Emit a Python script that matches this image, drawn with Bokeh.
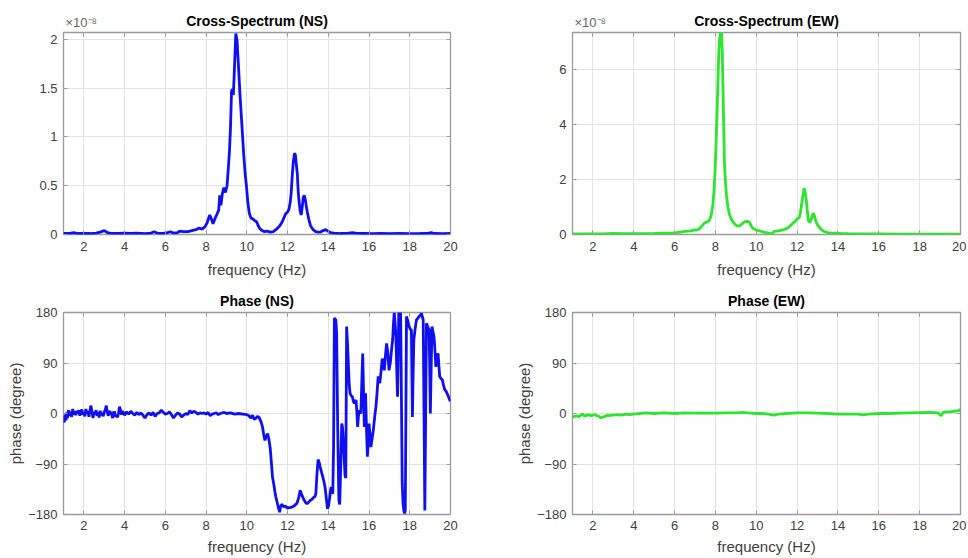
from bokeh.plotting import figure
from bokeh.models import (Range1d, FixedTicker, LinearAxis, Label, NumeralTickFormatter,
                          CustomLabelingPolicy)
from bokeh.layouts import column, row
from bokeh.embed import file_html
from bokeh.resources import INLINE

# ---------------- data ----------------
x_ticks = [2, 4, 6, 8, 10, 12, 14, 16, 18, 20]
spec_ns_ticks = [0, 0.5, 1, 1.5, 2]
spec_ew_ticks = [0, 2, 4, 6]
phase_ticks = [-180, -90, 0, 90, 180]

# Cross-spectrum NS (values in units of 1e-8)
ns_freq = [1.0, 1.3, 1.5, 1.7, 2.0, 2.3, 2.6, 2.8, 3.0, 3.15, 3.4, 3.7, 4.0, 4.3, 4.6, 5.0, 5.3, 5.45,
           5.6, 5.9, 6.1, 6.25, 6.4, 6.6, 6.7, 6.9, 7.1, 7.3, 7.5, 7.65, 7.8, 7.95, 8.05, 8.18, 8.26,
           8.34, 8.45, 8.54, 8.62, 8.67, 8.73, 8.8, 8.87, 8.95, 9.03, 9.1, 9.15, 9.2, 9.25, 9.3, 9.34,
           9.39, 9.46, 9.52, 9.6, 9.66, 9.72, 9.8, 9.85, 9.92, 9.98, 10.05, 10.12, 10.2, 10.3, 10.4,
           10.48, 10.56, 10.64, 10.75, 10.84, 11.0, 11.16, 11.3, 11.49, 11.62, 11.74, 11.82, 11.9,
           12.0, 12.07, 12.13, 12.18, 12.23, 12.28, 12.34, 12.38, 12.43, 12.48, 12.52, 12.57, 12.62,
           12.67, 12.72, 12.77, 12.82, 12.87, 12.92, 12.97, 13.05, 13.13, 13.25, 13.38, 13.5, 13.62,
           13.75, 13.87, 13.98, 14.1, 14.3, 14.6, 14.9, 15.2, 15.4, 15.8, 16.2, 16.6, 17.0, 17.5,
           18.0, 18.5, 18.9, 19.05, 19.2, 19.6, 20.0]
ns_spec = [0.01, 0.012, 0.018, 0.01, 0.012, 0.01, 0.015, 0.025, 0.04, 0.02, 0.01, 0.012, 0.015, 0.012,
           0.015, 0.01, 0.015, 0.028, 0.015, 0.012, 0.02, 0.028, 0.015, 0.02, 0.035, 0.03, 0.03, 0.04,
           0.05, 0.065, 0.055, 0.08, 0.12, 0.2, 0.16, 0.11, 0.17, 0.21, 0.25, 0.40, 0.30, 0.42, 0.48,
           0.43, 0.50, 0.70, 0.86, 1.1, 1.47, 1.49, 1.43, 1.69, 2.06, 1.99, 1.69, 1.45, 1.25, 0.98, 0.81,
           0.62, 0.50, 0.33, 0.22, 0.17, 0.16, 0.14, 0.13, 0.09, 0.06, 0.04, 0.03, 0.035, 0.025, 0.03,
           0.06, 0.09, 0.13, 0.17, 0.21, 0.23, 0.26, 0.33, 0.43, 0.6, 0.74, 0.83, 0.82, 0.72, 0.62,
           0.45, 0.33, 0.24, 0.20, 0.28, 0.38, 0.40, 0.36, 0.29, 0.23, 0.15, 0.09, 0.05, 0.03, 0.025,
           0.025, 0.04, 0.05, 0.035, 0.02, 0.015, 0.01, 0.012, 0.018, 0.012, 0.01, 0.008, 0.01, 0.008,
           0.01, 0.008, 0.01, 0.012, 0.02, 0.01, 0.008, 0.01]

# Cross-spectrum EW (values in units of 1e-8)
ew_freq = [1.0, 1.5, 2.0, 2.5, 3.0, 3.5, 4.0, 4.5, 5.0, 5.5, 6.0, 6.3, 6.5, 6.8, 6.98, 7.1, 7.2, 7.3,
           7.38, 7.46, 7.54, 7.62, 7.7, 7.79, 7.87, 7.93, 7.98, 8.03, 8.08, 8.12, 8.16, 8.2, 8.26, 8.3,
           8.34, 8.39, 8.44, 8.49, 8.54, 8.6, 8.68, 8.76, 8.85, 8.95, 9.09, 9.17, 9.25, 9.35, 9.45,
           9.55, 9.66, 9.74, 9.82, 9.95, 10.07, 10.2, 10.4, 10.55, 10.72, 10.8, 10.88, 11.0, 11.2,
           11.35, 11.53, 11.65, 11.77, 11.85, 11.93, 12.02, 12.1, 12.16, 12.21, 12.28, 12.34, 12.39,
           12.44, 12.5, 12.55, 12.62, 12.67, 12.74, 12.8, 12.87, 12.93, 13.0, 13.07, 13.2, 13.32, 13.5,
           13.64, 13.9, 14.13, 14.5, 15.0, 15.5, 16.0, 17.0, 18.0, 19.0, 20.0]
ew_spec = [0.02, 0.02, 0.025, 0.025, 0.04, 0.03, 0.03, 0.035, 0.04, 0.05, 0.06, 0.09, 0.11, 0.13, 0.17,
           0.16, 0.2, 0.28, 0.35, 0.42, 0.45, 0.47, 0.5, 0.7, 1.05, 1.6, 2.27, 3.3, 4.45, 5.5, 6.5, 7.1,
           7.4, 7.4, 6.5, 4.5, 2.63, 1.9, 1.42, 1.05, 0.75, 0.58, 0.47, 0.38, 0.30, 0.32, 0.35, 0.42,
           0.47, 0.48, 0.45, 0.33, 0.23, 0.18, 0.15, 0.12, 0.08, 0.06, 0.02, 0.06, 0.11, 0.12, 0.15,
           0.18, 0.23, 0.3, 0.39, 0.45, 0.5, 0.58, 0.6, 0.8, 1.05, 1.4, 1.68, 1.55, 1.3, 0.85, 0.5,
           0.45, 0.5, 0.68, 0.78, 0.62, 0.45, 0.35, 0.27, 0.17, 0.11, 0.07, 0.06, 0.05, 0.04, 0.03,
           0.025, 0.02, 0.02, 0.015, 0.015, 0.015, 0.015]

# Phase NS (degrees)
nsp_freq = [1.0, 1.04, 1.08, 1.12, 1.16, 1.2, 1.25, 1.3, 1.35, 1.4, 1.45, 1.5, 1.55, 1.6, 1.65, 1.7,
            1.75, 1.8, 1.85, 1.9, 1.95, 2.0, 2.05, 2.1, 2.15, 2.2, 2.25, 2.3, 2.35, 2.4, 2.45, 2.5,
            2.55, 2.6, 2.65, 2.7, 2.75, 2.8, 2.85, 2.9, 2.95, 3.0, 3.05, 3.1, 3.15, 3.2, 3.25, 3.3,
            3.35, 3.4, 3.45, 3.5, 3.55, 3.6, 3.65, 3.7, 3.75, 3.8, 3.85, 3.9, 3.95, 4.0, 4.1, 4.2,
            4.3, 4.4, 4.5, 4.6, 4.7, 4.8, 4.9, 5.0, 5.1, 5.2, 5.3, 5.4, 5.5, 5.6, 5.7, 5.8, 5.9, 6.0,
            6.1, 6.2, 6.3, 6.4, 6.5, 6.6, 6.7, 6.8, 6.9, 7.0, 7.1, 7.2, 7.3, 7.4, 7.5, 7.6, 7.7, 7.8,
            7.9, 8.0, 8.1, 8.2, 8.3, 8.4, 8.5, 8.6, 8.7, 8.8, 8.9, 9.0, 9.2, 9.4, 9.6, 9.8, 10.0,
            10.1, 10.2, 10.28, 10.36, 10.44, 10.52, 10.6, 10.7, 10.77, 10.83, 10.89, 10.95, 11.02,
            11.08, 11.15, 11.2, 11.26, 11.32, 11.38, 11.43, 11.5, 11.55, 11.61, 11.66, 11.72, 11.8,
            11.9, 11.97, 12.1, 12.21, 12.35, 12.46, 12.55, 12.62, 12.7, 12.78, 12.87, 12.95, 13.03,
            13.11, 13.2, 13.27, 13.34, 13.39, 13.44, 13.5, 13.56, 13.6, 13.67, 13.73, 13.79, 13.84,
            13.9, 13.96, 14.01, 14.06, 14.1, 14.14, 14.18, 14.22, 14.26, 14.3, 14.37, 14.41, 14.46,
            14.52, 14.56, 14.62, 14.66, 14.7, 14.74, 14.78, 14.82, 14.86, 14.9, 14.95, 14.99, 15.03,
            15.07, 15.12, 15.18, 15.23, 15.28, 15.32, 15.36, 15.4, 15.44, 15.48, 15.52, 15.56, 15.6,
            15.65, 15.69, 15.73, 15.77, 15.8, 15.83, 15.87, 15.92, 15.96, 16.0, 16.05, 16.09, 16.15,
            16.21, 16.28, 16.34, 16.4, 16.45, 16.49, 16.53, 16.59, 16.65, 16.7, 16.75, 16.8, 16.86,
            16.92, 16.98, 17.02, 17.06, 17.11, 17.16, 17.2, 17.24, 17.28, 17.32, 17.36, 17.4, 17.43,
            17.46, 17.51, 17.55, 17.59, 17.63, 17.67, 17.71, 17.75, 17.78, 17.81, 17.84, 17.9, 17.97,
            18.03, 18.08, 18.11, 18.13, 18.16, 18.2, 18.26, 18.33, 18.4, 18.46, 18.52, 18.57, 18.62,
            18.66, 18.7, 18.74, 18.78, 18.82, 18.88, 18.95, 18.98, 19.01, 19.05, 19.09, 19.14, 19.19,
            19.24, 19.28, 19.33, 19.39, 19.43, 19.47, 19.54, 19.6, 19.66, 19.72, 19.78, 19.83, 19.9,
            19.96, 20.0]
nsp_deg = [-5, -16, -2, -12, 2, -8, 6, -4, 3, -6, 8, -2, 4, -3, 5, 0, 6, -4, 3, 7, -2, 2, -5, 8, 0, 4,
           -6, 6, 14, 2, -8, 3, -2, 6, -4, 2, -7, 5, -3, 1, -5, 3, 6, 14, 2, -4, 5, -2, 3, -8, -3, 4,
           -6, -2, -7, 0, 12, 6, -2, 4, 1, -3, 3, -1, 4, 0, -3, 2, -2, 1, -3, -8, -2, 1, -3, 2, -5, 0,
           1, 6, 2, -1, 0, 3, -2, -8, -3, 1, -1, -6, -3, 0, -2, 5, 1, 4, 2, -1, 1, 0, 1, -1, 2, -4, -1,
           0, 1, -2, 0, 1, 2, 0, 1, -1, 0, -1, -2, -4, -8, -3, -10, -9, -5, -7, -15, -24, -38, -48,
           -40, -36, -45, -62, -85, -113, -125, -140, -149, -160, -168, -176, -165, -162, -166, -165,
           -168, -168, -167, -164, -160, -150, -137, -145, -152, -158, -161, -158, -155, -153, -150,
           -148, -143, -110, -82, -88, -95, -105, -113, -122, -131, -150, -170, -165, -152, -140, -131,
           -140, -143, -60, 170, 167, 143, -20, -155, -162, -83, -18, -25, -48, -80, -110, -115, 155,
           120, 83, 50, 36, 32, 30, 22, 18, 22, 24, 5, -24, -5, 6, 2, 0, 60, 107, 40, -24, 10, 36, -20,
           -77, -50, -18, -40, -60, -45, -30, -5, 12, 40, 66, 58, 54, 75, 98, 90, 77, 100, 125, 110,
           77, 85, 95, 115, 131, 160, 180, 160, 137, 80, 30, 100, 180, 180, 179, 30, -125, -160, -173,
           -178, -173, 0, 173, 165, 155, 150, 149, 60, -6, 60, 131, 150, 167, 170, 173, 175, 179, 172,
           167, 0, -173, 0, 161, 155, 149, 80, 0, 80, 155, 145, 137, 110, 83, 100, 107, 85, 66, 62, 60,
           50, 42, 40, 36, 30, 24, 22]

# Phase EW (degrees)
ewp_freq = [1.0, 1.1, 1.2, 1.3, 1.4, 1.5, 1.6, 1.7, 1.8, 1.9, 2.0, 2.1, 2.2, 2.3, 2.4, 2.5, 2.6, 2.7,
            2.8, 2.9, 3.0, 3.2, 3.4, 3.6, 3.8, 4.0, 4.3, 4.6, 5.0, 5.5, 6.0, 6.5, 7.0, 7.5, 8.0, 8.5,
            9.0, 9.3, 9.6, 10.0, 10.3, 10.6, 10.85, 11.1, 11.5, 12.0, 12.5, 13.0, 13.5, 14.0, 14.5,
            15.0, 15.2, 15.5, 16.0, 16.5, 17.0, 17.5, 18.0, 18.5, 18.9, 19.05, 19.15, 19.3, 19.5,
            19.7, 19.9, 20.0]
ewp_deg = [-6, -5, -4, -6, -3, -1, -5, -3, -2, -4, -3, -2, -4, -5, -8, -6, -5, -3, -4, -3, -3, -2, -3,
           -1, -2, -1, 0, 1, 0, 1, 0, 1, 0.5, 0.5, 0.5, 1, 1, 2, 1, 0, 0, -1, -3, -1, 0, 1, 1, 0.5, 0,
           -1, -1, -1, -2.5, -1, 0, 0, 0.5, 1, 1.5, 2, 1, -4, 2, 3, 3, 4, 5, 7]

# ---------------- styling ----------------
FONT = "Liberation Sans"
LABEL_COLOR = "#404040"
FRAME_COLOR = "#9a9a9a"
GRID_COLOR = "#e3e3e3"
BLUE = "#1010ee"
GREEN = "#2ee42e"
LINE_W = 2.8

NO_LABELS = CustomLabelingPolicy(code="return []")


def tick_axis(ticks):
    # tick marks only (MATLAB-style box ticks on the top and right edges)
    return LinearAxis(ticker=FixedTicker(ticks=ticks), major_label_policy=NO_LABELS,
                      major_label_text_font_size="1px", major_tick_in=4, major_tick_out=0,
                      axis_line_color=None, major_tick_line_color=FRAME_COLOR,
                      minor_tick_line_color=None, major_label_standoff=0)


def make_fig(title, width, height, y_end, y_start, y_ticks, borders, ylabel=None, fmt=None,
             x_label_standoff=7, x_tick_standoff=7):
    left, right, top, bottom = borders
    p = figure(width=width, height=height, x_range=Range1d(1, 20), y_range=Range1d(y_start, y_end),
               output_backend="svg", toolbar_location=None, tools="",
               min_border_left=left, min_border_right=right,
               min_border_top=top, min_border_bottom=bottom)
    p.title.text = title
    p.title.align = "center"
    p.title.text_font = FONT
    p.title.text_font_size = "14px"
    p.title.text_font_style = "bold"
    p.title.text_color = "black"
    p.title.standoff = 0
    p.background_fill_color = "white"
    p.border_fill_color = "white"
    p.outline_line_color = FRAME_COLOR
    p.outline_line_width = 1.3

    p.xaxis.ticker = FixedTicker(ticks=x_ticks)
    p.yaxis.ticker = FixedTicker(ticks=y_ticks)
    if fmt is not None:
        p.yaxis.formatter = fmt
    for ax in (p.xaxis, p.yaxis):
        ax.axis_line_color = None
        ax.major_tick_in = 4
        ax.major_tick_out = 0
        ax.major_tick_line_color = FRAME_COLOR
        ax.minor_tick_line_color = None
        ax.major_label_text_font = FONT
        ax.major_label_text_font_size = "13px"
        ax.major_label_text_color = LABEL_COLOR
        ax.axis_label_text_font = FONT
        ax.axis_label_text_font_size = "15px"
        ax.axis_label_text_font_style = "normal"
        ax.axis_label_text_color = LABEL_COLOR
    p.xaxis.axis_label = "frequency (Hz)"
    p.xaxis.major_label_standoff = x_tick_standoff
    p.xaxis.axis_label_standoff = x_label_standoff
    p.yaxis.major_label_standoff = 6
    p.yaxis.axis_label_standoff = 1
    if ylabel:
        p.yaxis.axis_label = ylabel

    p.xgrid.grid_line_color = GRID_COLOR
    p.ygrid.grid_line_color = GRID_COLOR

    p.add_layout(tick_axis(x_ticks), "above")
    p.add_layout(tick_axis(y_ticks), "right")
    return p


def add_exponent(p, y_end):
    # kept in a side panel so that it is not clipped by the frame
    p.add_layout(Label(x=1, y=y_end, x_offset=2, y_offset=3, text="×10⁻⁸", text_font=FONT,
                       text_font_size="13px", text_color="#666666", text_baseline="bottom"),
                 "left")


W1, W2 = 480, 486
H1, H2 = 280, 277

p1 = make_fig("Cross-Spectrum (NS)", W1, H1, 2.07, 0, spec_ns_ticks, (63, 30, 32, 46),
              fmt=NumeralTickFormatter(format="0.[0]"))
p1.line(ns_freq, ns_spec, line_width=LINE_W, color=BLUE)
add_exponent(p1, 2.07)

p2 = make_fig("Cross-Spectrum (EW)", W2, H1, 7.35, 0, spec_ew_ticks, (92, 6, 32, 46))
p2.line(ew_freq, ew_spec, line_width=LINE_W, color=GREEN)
add_exponent(p2, 7.35)

p3 = make_fig("Phase (NS)", W1, H2, 180, -180, phase_ticks, (63, 30, 32, 43), ylabel="phase (degree)",
              x_label_standoff=5, x_tick_standoff=6)
p3.line(nsp_freq, nsp_deg, line_width=LINE_W, color=BLUE)

p4 = make_fig("Phase (EW)", W2, H2, 180, -180, phase_ticks, (92, 6, 32, 43), ylabel="phase (degree)",
              x_label_standoff=5, x_tick_standoff=6)
p4.line(ewp_freq, ewp_deg, line_width=LINE_W, color=GREEN)

layout = column(row(p1, p2), row(p3, p4))

with open("out.html", "w") as f:
    f.write(file_html(layout, INLINE))
